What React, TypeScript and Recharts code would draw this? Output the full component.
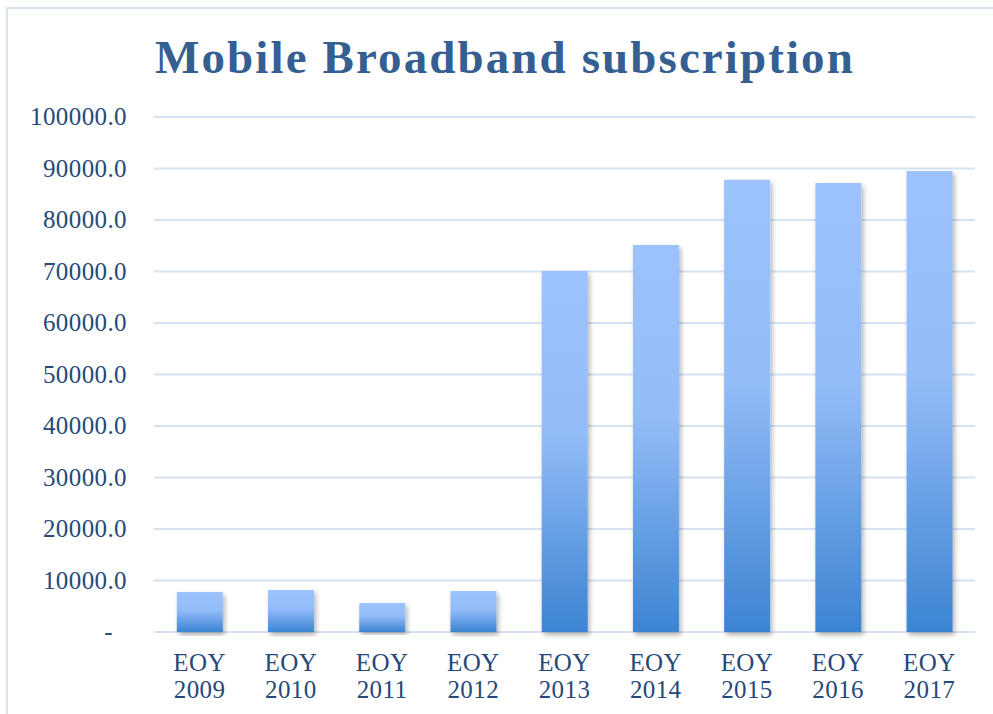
import React from "react";
import { BarChart, Bar, XAxis, YAxis, CartesianGrid } from "recharts";

const categories = ["EOY 2009", "EOY 2010", "EOY 2011", "EOY 2012", "EOY 2013", "EOY 2014", "EOY 2015", "EOY 2016", "EOY 2017"];
const subscriptions = [7750, 8150, 5650, 7950, 70100, 75150, 87800, 87200, 89500];
const yTicks = [0, 10000, 20000, 30000, 40000, 50000, 60000, 70000, 80000, 90000, 100000];
const title = "Mobile Broadband subscription";

const data = categories.map((c, i) => ({ name: c, value: subscriptions[i] }));

const FONT = "'Liberation Serif', 'DejaVu Serif', serif";
const TEXT_COLOR = "#24497A";

const YTick = (props: any) => {
  const { x, y, payload } = props;
  const label = payload.value === 0 ? "-" : Number(payload.value).toFixed(1);
  return (
    <text x={payload.value === 0 ? x - 14 : x} y={y} dy={8} textAnchor="end" fill={TEXT_COLOR} fontFamily={FONT} fontSize={25} letterSpacing={0.4}>
      {label}
    </text>
  );
};

const XTick = (props: any) => {
  const { x, y, payload } = props;
  const parts = String(payload.value).split(" ");
  return (
    <text x={x} y={y} textAnchor="middle" fill={TEXT_COLOR} fontFamily={FONT} fontSize={25} letterSpacing={0.4}>
      <tspan x={x} dy={31}>{parts[0]}</tspan>
      <tspan x={x} dy={27}>{parts[1]}</tspan>
    </text>
  );
};

export default function App() {
  return (
    <div style={{ position: "absolute", left: 0, top: 0, width: 993, height: 714, background: "#fff", overflow: "hidden" }}>
      <div style={{ position: "absolute", left: 6, top: 7, width: 1100, height: 800, borderLeft: "2px solid #D6E3F3", borderTop: "2px solid #D6E3F3" }} />
      <div
        style={{
          position: "absolute",
          left: 505,
          top: 27,
          transform: "translateX(-50%)",
          whiteSpace: "nowrap",
          fontFamily: FONT,
          fontWeight: "bold",
          fontSize: 47,
          letterSpacing: 2.1,
          color: "#365F91",
          lineHeight: "60px",
        }}
      >
        {title}
      </div>
      <div style={{ position: "absolute", left: 0, top: 0 }}>
        <BarChart width={993} height={714} data={data} margin={{ top: 117, right: 18, bottom: 52, left: 0 }} barCategoryGap="25%">
          <defs>
            <linearGradient id="barGrad" x1="0" y1="0" x2="0" y2="1">
              <stop offset="0%" stopColor="#9DC3FE" />
              <stop offset="45%" stopColor="#93BCF8" />
              <stop offset="100%" stopColor="#3C84D2" />
            </linearGradient>
            <filter id="barShadow" x="-20%" y="-5%" width="150%" height="115%">
              <feDropShadow dx="2" dy="3" stdDeviation="2.5" floodColor="#000" floodOpacity="0.3" />
            </filter>
          </defs>
          <CartesianGrid vertical={false} stroke="#D5E2F4" strokeWidth={2} />
          <XAxis dataKey="name" axisLine={false} tickLine={false} tick={<XTick />} interval={0} height={30} />
          <YAxis
            type="number"
            domain={[0, 100000]}
            ticks={yTicks}
            width={154}
            axisLine={false}
            tickLine={false}
            tickSize={0}
            tickMargin={27}
            tick={<YTick />}
            interval={0}
          />
          <Bar dataKey="value" fill="url(#barGrad)" filter="url(#barShadow)" isAnimationActive={false} />
        </BarChart>
      </div>
    </div>
  );
}
